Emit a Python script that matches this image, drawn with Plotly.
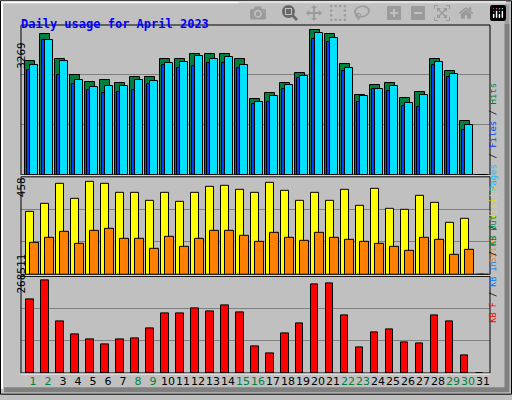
import plotly.graph_objects as go

days = list(range(1, 32))
weekend = {1, 2, 8, 9, 15, 16, 22, 23, 29, 30}

hits = [2558, 3180, 2624, 2246, 2090, 2135, 2068, 2202, 2202, 2602, 2602, 2735, 2735, 2735, 2602,
        1712, 1846, 2068, 2290, 3269, 3180, 2491, 1801, 2024, 2068, 1735, 1868, 2624, 2335, 1223, 0]
files = [2357, 3047, 2246, 2046, 1913, 1846, 1868, 1913, 2046, 2469, 2402, 2446, 2513, 2513, 2402,
         1601, 1646, 1935, 2180, 3069, 3002, 2335, 1646, 1935, 1890, 1557, 1535, 2469, 2202, 1001, 0]
pages = [2469, 3047, 2558, 2135, 1979, 2002, 2002, 2135, 2113, 2513, 2535, 2691, 2624, 2669, 2469,
         1646, 1779, 2024, 2224, 3203, 3091, 2402, 1779, 1935, 2002, 1624, 1801, 2535, 2268, 1134, 0]
visits = [310, 349, 448, 374, 458, 448, 403, 403, 364, 403, 359, 403, 433, 438, 418,
          403, 453, 413, 364, 403, 364, 418, 339, 423, 325, 320, 389, 354, 256, 276, 0]
sites = [157, 182, 212, 153, 216, 226, 177, 177, 128, 187, 138, 177, 216, 216, 192,
         162, 207, 182, 167, 207, 182, 172, 162, 153, 138, 118, 182, 172, 98, 123, 0]
kbytes = [212500, 268511, 150500, 112100, 97400, 82600, 97400, 100300, 129800, 174100, 174100,
          188900, 180000, 194800, 177100, 76700, 56100, 115100, 144600, 256700, 259700, 168200,
          73800, 118000, 126900, 88500, 85600, 168200, 150500, 50200, 0]

W, H = 512, 400
L, R, T, B = 21, 22, 25, 22
PW, PH = W - L - R, H - T - B


def px(x):
    return (x - L) / PW


def py(y):
    return (H - B - y) / PH


def shift(vals, d):
    return [v + d for v in vals]


line = dict(color="black", width=1)
fig = go.Figure()
fig.add_trace(go.Bar(x=shift(days, -0.2), y=hits, width=0.68, marker=dict(color="#008040", line=line),
                     name="Hits", yaxis="y"))
fig.add_trace(go.Bar(x=shift(days, -0.3), y=files, width=0.22, marker=dict(color="#0040FF", line=line),
                     name="Files", yaxis="y"))
fig.add_trace(go.Bar(x=shift(days, 0.05), y=pages, width=0.55, marker=dict(color="#00E0FF", line=line),
                     name="Pages", yaxis="y"))
fig.add_trace(go.Bar(x=shift(days, -0.2), y=visits, width=0.55, marker=dict(color="#FFFF00", line=line),
                     name="Visits", yaxis="y2"))
fig.add_trace(go.Bar(x=shift(days, 0.1), y=sites, width=0.55, marker=dict(color="#FF8000", line=line),
                     name="Sites", yaxis="y2"))
fig.add_trace(go.Bar(x=shift(days, -0.2), y=kbytes, width=0.47, marker=dict(color="#FF0000", line=line),
                     name="KB F", yaxis="y3"))

ymax1, ymax2, ymax3 = 3380, 483, 280300
ticktext = ['<span style="color:%s">%d</span>' % ("#008040" if d in weekend else "black", d) for d in days]

ax = dict(showline=False, zeroline=False, showticklabels=False, gridcolor="#808080", gridwidth=1)
fig.update_layout(
    width=W, height=H, margin=dict(l=L, r=R, t=T, b=B),
    paper_bgcolor="#C0C0C0", plot_bgcolor="#C0C0C0",
    barmode="overlay", bargap=0, showlegend=False,
    font=dict(family="DejaVu Sans Mono", size=11, color="black"),
    xaxis=dict(range=[0.2, 31.47], anchor="y3", tickvals=days, ticktext=ticktext, tickangle=0,
               showgrid=False, zeroline=False, ticks="",
               tickfont=dict(size=11, family="Liberation Sans Narrow, DejaVu Sans")),
    yaxis=dict(domain=[py(177), 1], range=[0, ymax1], tickvals=[ymax1 / 3, ymax1 * 2 / 3], **ax),
    yaxis2=dict(domain=[py(278), py(179)], range=[0, ymax2], tickvals=[ymax2 / 3, ymax2 * 2 / 3], **ax),
    yaxis3=dict(domain=[0, py(280)], range=[0, ymax3], tickvals=[ymax3 / 3, ymax3 * 2 / 3], **ax),
)

shapes = []
# outer frame
shapes.append(dict(type="rect", xref="paper", yref="paper", x0=px(0.5), x1=px(W - 0.5), y0=py(H - 0.5), y1=py(0.5),
                   line=dict(color="black", width=1), layer="below"))
shapes.append(dict(type="path", xref="paper", yref="paper",
                   path="M %f %f L %f %f L %f %f" % (px(2), py(H - 6), px(2), py(2), px(W - 6), py(2)),
                   line=dict(color="white", width=2)))
shapes.append(dict(type="path", xref="paper", yref="paper",
                   path="M %f %f L %f %f L %f %f" % (px(W - 5), py(4), px(W - 5), py(H - 5), px(4), py(H - 5)),
                   line=dict(color="#808080", width=5)))
for y0, y1 in [(25, 177), (179, 278), (280, 378)]:
    shapes.append(dict(type="rect", xref="paper", yref="paper", x0=0, x1=1, y0=py(y1), y1=py(y0),
                       line=dict(color="black", width=1)))
    shapes.append(dict(type="line", xref="paper", yref="paper", x0=0, x1=1, y0=py(y1 + 1), y1=py(y1 + 1),
                       line=dict(color="white", width=1)))
fig.update_layout(shapes=shapes)

side = dict(size=9, family="DejaVu Sans Mono")
ann = [
    dict(x=px(19), y=py(15), text="<b>Daily usage for April 2023</b>", xanchor="left",
         font=dict(color="#0000FF", size=12, family="DejaVu Sans Mono")),
    dict(x=px(13), y=py(40), text="3269", textangle=-90),
    dict(x=px(13), y=py(190), text="458", textangle=-90),
    dict(x=px(13), y=py(300), text="268511", textangle=-90),
    dict(x=px(500), y=py(82), textangle=-90, font=side,
         text='<span style="color:#00C0FF">Pages</span> / <span style="color:#0040FF">Files</span>'
              ' / <span style="color:#008040">Hits</span>'),
    dict(x=px(500), y=py(228), textangle=-90, font=side,
         text='<span style="color:#FF8000">Sites</span> / <span style="color:#E0E000">Visits</span>'),
    dict(x=px(500), y=py(329), textangle=-90, font=dict(size=8.5, family="DejaVu Sans Mono"),
         text='<span style="color:#FF0000">KB F</span> / <span style="color:#0080FF">KB In</span>'
              ' / <span style="color:#008040">KB Out</span>'),
]
for a in ann:
    a.setdefault("xref", "paper")
    a.setdefault("yref", "paper")
    a.setdefault("showarrow", False)
fig.update_layout(annotations=ann)

fig.write_html("out.html", post_script="document.body.style.margin='0';")
